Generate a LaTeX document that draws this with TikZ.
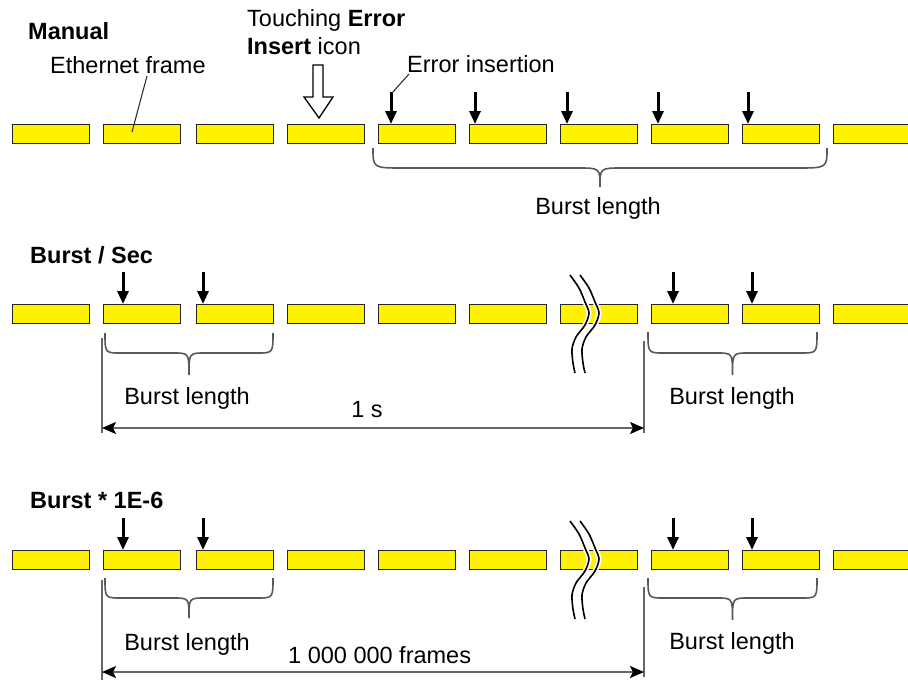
\documentclass[tikz,border=0pt]{standalone}
\usepackage{fontspec}
\setmainfont{Liberation Sans}
\usetikzlibrary{arrows.meta,calc}
\newcommand\ebrace[7]{% xL, xR, y0, y1, y2, corner, tipcurve
  \draw[bracestyle] (#1,#3) .. controls (#1,#4) .. ({#1+#6},#4) -- ({(#1+#2)/2-#7},#4)
    .. controls ({(#1+#2)/2},#4) .. ({(#1+#2)/2},#5)
    .. controls ({(#1+#2)/2},#4) .. ({(#1+#2)/2+#7},#4) -- ({#2-#6},#4)
    .. controls (#2,#4) .. (#2,#3);}
\newcommand\breakmark[1]{%
  \foreach \dx in {0,10} {
    \draw[white, line width=5pt] plot[smooth] coordinates {({570+\dx},{#1-38}) ({579+\dx},{#1-25}) ({585+\dx},{#1-11}) ({589+\dx},{#1}) ({585+\dx},{#1+12}) ({576+\dx},{#1+24}) ({572+\dx},{#1+36}) ({573+\dx},{#1+50}) ({575+\dx},{#1+60})};
  }
  \foreach \dx in {0,10} {
    \draw[black, line width=1.6pt] plot[smooth] coordinates {({570+\dx},{#1-38}) ({579+\dx},{#1-25}) ({585+\dx},{#1-11}) ({589+\dx},{#1}) ({585+\dx},{#1+12}) ({576+\dx},{#1+24}) ({572+\dx},{#1+36}) ({573+\dx},{#1+50}) ({575+\dx},{#1+60})};
  }}
\begin{document}
\begin{tikzpicture}[x=1pt,y=-1pt,
  frame/.style={draw=black!85, fill=yellow, line width=1.4pt, minimum width=77pt, minimum height=18.5pt, inner sep=0pt, anchor=north west},
  lbl/.style={font=\fontsize{23.5}{27}\selectfont, inner sep=0pt, text=black},
  blbl/.style={inner sep=0pt, text=black, font=\fontsize{23.5}{27}\selectfont\bfseries},
  errarrow/.style={line width=3pt, -{Triangle[length=13pt,width=11pt]}},
  bracestyle/.style={draw=black!65, line width=1.6pt},
  dimline/.style={draw=black!60, line width=1.8pt},
  dimarrow/.style={dimline, {Stealth[length=14pt,width=12pt,inset=3pt,black]}-{Stealth[length=14pt,width=12pt,inset=3pt,black]}},
  leader/.style={draw=black!80, line width=1.1pt}
]
\clip (0,0) rectangle (908,680);
\fill[white] (0,0) rectangle (908,680);

% frames
\foreach \i/\x in {1/12,2/103,3/196,4/287,5/378,6/469,7/560,8/651,9/742,10/833} {
  \node[frame] (a\i) at (\x,124) {};
  \node[frame] (b\i) at (\x,304) {};
  \node[frame] (c\i) at (\x,550) {};
}

% row 1 error arrows
\foreach \i/\o in {5/13,6/6,7/7,8/7,9/6} {
  \coordinate (ea\i) at ($(a\i.north west)+(\o,-32)$);
  \draw[errarrow] (ea\i) -- ($(a\i.north west)+(\o,0)$);
}
% row 2 & 3 error arrows
\foreach \i/\o in {2/20,3/7,8/22,9/10} {
  \coordinate (eb\i) at ($(b\i.north west)+(\o,-32)$);
  \draw[errarrow] (eb\i) -- ($(b\i.north west)+(\o,0)$);
  \coordinate (ec\i) at ($(c\i.north west)+(\o,-32)$);
  \draw[errarrow] (ec\i) -- ($(c\i.north west)+(\o,0)$);
}

% hollow arrow
\draw[line width=1.3pt, fill=white, line join=miter]
  (313,65) -- (323,65) -- (323,97) -- (333,97) -- (319,118) -- (304,97) -- (313,97) -- cycle;

% labels
\node[blbl, anchor=base west] (manual) at (28,39) {Manual};
\node[lbl, anchor=base west] (eth) at (50,73) {Ethernet frame};
\node[lbl, anchor=base west] (touch1) at (247,27) {Touching \textbf{Error}};
\node[lbl, anchor=base west] (touch2) at (247,54) {\textbf{Insert} icon};
\node[lbl, anchor=base west] (errins) at (407,72) {Error insertion};
\node[lbl, anchor=base] (bl1) at (598,214) {Burst length};
\node[blbl, anchor=base west] (bsec) at (30,263) {Burst / Sec};
\node[lbl, anchor=base] (bl2a) at (187,404) {Burst length};
\node[lbl, anchor=base] (bl2b) at (732,404) {Burst length};
\node[lbl, anchor=base] (ones) at (367,417) {1 s};
\node[blbl, anchor=base west] (bmil) at (30,508) {Burst * 1E-6};
\node[lbl, anchor=base] (bl3a) at (187,650) {Burst length};
\node[lbl, anchor=base] (bl3b) at (732,649) {Burst length};
\node[lbl, anchor=base west] (mil) at (288,663) {1 000 000 frames};

% leaders
\coordinate (ethA) at (147,76);
\coordinate (ethB) at (132,132);
\draw[leader] (ethA) -- (ethB);
\coordinate (errA) at (409,74);
\coordinate (errB) at (392,93);
\draw[leader] (errA) -- (errB);

% braces
\ebrace{373}{827}{148}{168}{187}{30}{22}
\ebrace{105}{273}{333}{353}{375}{16}{16}
\ebrace{648}{817}{332}{353}{375}{16}{16}
\ebrace{105}{273}{578}{598}{618}{16}{16}
\ebrace{648}{817}{578}{598}{620}{16}{16}

% break marks
\breakmark{313}
\breakmark{559}

% dimension lines
\coordinate (d2l1) at (102,338); \coordinate (d2l2) at (102,433);
\coordinate (d2r1) at (644,341); \coordinate (d2r2) at (644,433);
\draw[dimline] (d2l1) -- (d2l2);
\draw[dimline] (d2r1) -- (d2r2);
\coordinate (d2a) at (102,428); \coordinate (d2b) at (644,428);
\draw[dimarrow] (d2a) -- (d2b);

\coordinate (d3l1) at (102,580); \coordinate (d3l2) at (102,680);
\coordinate (d3r1) at (644,587); \coordinate (d3r2) at (644,677);
\draw[dimline] (d3l1) -- (d3l2);
\draw[dimline] (d3r1) -- (d3r2);
\coordinate (d3a) at (102,672); \coordinate (d3b) at (644,672);
\draw[dimarrow] (d3a) -- (d3b);
\end{tikzpicture}
\end{document}
